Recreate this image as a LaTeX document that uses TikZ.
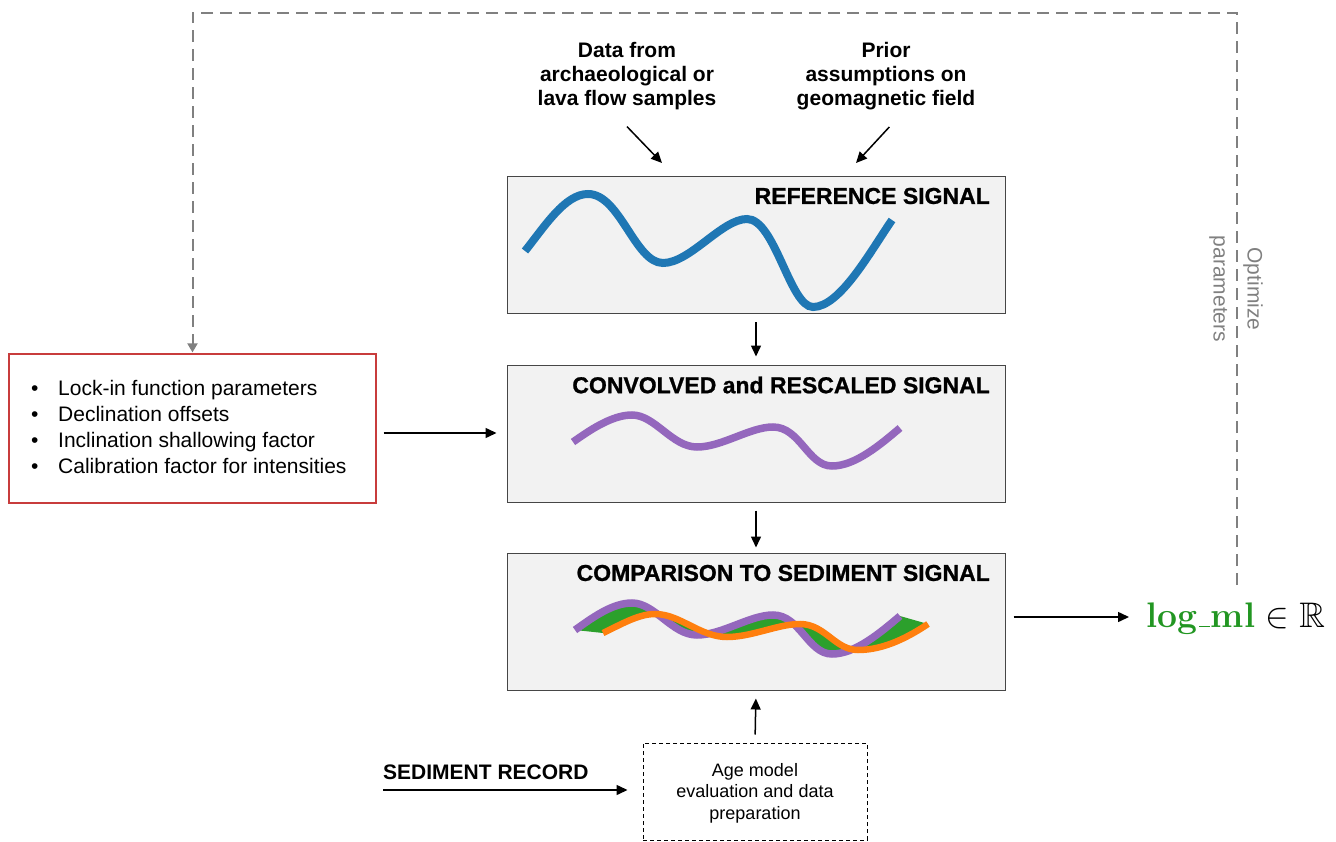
\RequirePackage{fix-cm}
\documentclass[tikz,border=0pt]{standalone}
\usepackage{fontspec}
\setsansfont{Liberation Sans}
\newfontfamily\panelfont[BoldFont={Liberation Sans Bold}, BoldFeatures={FakeBold=1}]{Liberation Sans}
\usepackage{amssymb}
\usetikzlibrary{arrows.meta}

\definecolor{boxfill}{RGB}{242,242,242}
\definecolor{boxline}{RGB}{70,70,70}
\definecolor{mblue}{RGB}{31,119,180}
\definecolor{mpurple}{RGB}{148,103,189}
\definecolor{morange}{RGB}{255,127,14}
\definecolor{mgreen}{RGB}{44,160,44}
\definecolor{loopgrey}{RGB}{128,128,128}
\definecolor{lockred}{RGB}{200,60,60}
\definecolor{mlgreen}{RGB}{34,150,34}

% short, low underscore as in the classic OT1 encoding
\newcommand{\shortunderscore}{\kern.06em\rule{.3em}{1.4pt}\kern.02em}

\tikzset{
  sigbox/.style={draw=boxline, line width=1pt, fill=boxfill, inner sep=0pt,
                 minimum width=498pt, minimum height=137pt},
  sigtitle/.style={anchor=east, inner sep=0pt,
                   font=\panelfont\bfseries\fontsize{23}{26}\selectfont},
  plaintext/.style={inner sep=0pt, align=center,
                    font=\sffamily\fontsize{21}{24}\selectfont},
  boldtext/.style={plaintext, font=\sffamily\bfseries\fontsize{21}{24}\selectfont},
  flow/.style={line width=1.5pt, -{Triangle[length=11pt,width=10pt]}},
  feedback/.style={draw=loopgrey, line width=2pt, dash pattern=on 12pt off 7pt,
                   -{Triangle[length=9pt,width=10pt]}},
  curve/.style={line width=#1},
}

\begin{document}
\begin{tikzpicture}[x=1pt, y=-1pt]
\useasboundingbox (0,0) rectangle (1336,842);

% ---- input texts at the top
\node[boldtext] (datatxt) at (627,76) {Data from\\archaeological or\\lava flow samples};
\node[boldtext] (priortxt) at (886,76) {Prior\\assumptions on\\geomagnetic field};
\coordinate (datain) at (662,163);
\coordinate (priorin) at (856,163);
\draw[flow, shorten <=23pt] ([xshift=-16pt]datatxt.south) -- (datain);
\draw[flow, shorten <=23pt] ([xshift=19pt]priortxt.south) -- (priorin);

% ---- the three signal panels
\node[sigbox] (ref)  at (756,245.5) {};
\node[sigbox] (conv) at (756,433.5) {};
\node[sigbox] (cmp)  at (756,621.5) {};

\node[sigtitle] (reftitle)  at (990,196) {REFERENCE SIGNAL};
\node[sigtitle] (convtitle) at (990,385) {CONVOLVED and RESCALED SIGNAL};
\node[sigtitle] (cmptitle)  at (990,573) {COMPARISON TO SEDIMENT SIGNAL};

% reference curve
\draw[mblue, curve=8pt]
  (525,251) .. controls (545,226) and (565,194) .. (588,194)
            .. controls (620,194) and (635,263) .. (663,263)
            .. controls (690,263) and (722,219) .. (747,219)
            .. controls (775,219) and (790,307) .. (813,307)
            .. controls (840,307) and (870,252) .. (892,220);

% convolved curve
\draw[mpurple, curve=7.5pt]
  (573,442) .. controls (590,430) and (612,415) .. (632,415)
            .. controls (655,415) and (672,447) .. (697,447)
            .. controls (722,447) and (750,427) .. (773,427)
            .. controls (800,427) and (808,466) .. (832,466)
            .. controls (855,466) and (880,445) .. (900,428);

% misfit area between model and sediment curves
\fill[mgreen]
  (575,630) .. controls (592,618) and (612,603) .. (632,603)
            .. controls (655,603) and (672,635) .. (697,635)
            .. controls (722,635) and (750,615) .. (773,615)
            .. controls (800,615) and (808,654) .. (832,654)
            .. controls (855,654) and (880,633) .. (900,616)
  -- (928,624) .. controls (910,636) and (885,650) .. (858,650)
            .. controls (835,650) and (825,624) .. (800,624)
            .. controls (778,624) and (752,637) .. (727,637)
            .. controls (700,637) and (680,614) .. (655,614)
            .. controls (638,614) and (620,625) .. (603,633)
  -- cycle;
\draw[mpurple, curve=7.5pt]
  (575,630) .. controls (592,618) and (612,603) .. (632,603)
            .. controls (655,603) and (672,635) .. (697,635)
            .. controls (722,635) and (750,615) .. (773,615)
            .. controls (800,615) and (808,654) .. (832,654)
            .. controls (855,654) and (880,633) .. (900,616);
\draw[morange, curve=6.5pt]
  (603,633) .. controls (620,625) and (638,614) .. (655,614)
            .. controls (680,614) and (700,637) .. (727,637)
            .. controls (752,637) and (778,624) .. (800,624)
            .. controls (825,624) and (835,650) .. (858,650)
            .. controls (885,650) and (910,636) .. (928,624);

\draw[flow, shorten <=8pt, shorten >=8pt] (ref.south) -- (conv.north);
\draw[flow, shorten <=8pt, shorten >=5pt] (conv.south) -- (cmp.north);

% ---- parameter box
\node[draw=lockred, line width=1.2pt, fill=white, inner sep=0pt,
      minimum width=367pt, minimum height=149pt] (lock) at (192.5,428.5) {};
\node[inner sep=0pt, align=left, anchor=west,
      font=\sffamily\fontsize{21}{25.7}\selectfont] (locklist) at (31,427)
  {\makebox[27pt][l]{\textbullet}Lock-in function parameters\\
   \makebox[27pt][l]{\textbullet}Declination offsets\\
   \makebox[27pt][l]{\textbullet}Inclination shallowing factor\\
   \makebox[27pt][l]{\textbullet}Calibration factor for intensities};
\coordinate (lockarr) at ([yshift=-4.5pt]lock.east);
\draw[flow, shorten <=7pt, shorten >=10pt] (lockarr) -- (lockarr -| conv.west);

% ---- sediment record input
\node[draw, line width=1pt, dash pattern=on 4pt off 3pt, inner sep=0pt,
      minimum width=224pt, minimum height=97pt] (age) at (755,791.5) {};
\node[plaintext, font=\sffamily\fontsize{18}{21.5}\selectfont] (agetxt) at (755,793)
  {Age model\\evaluation and data\\preparation};
\node[boldtext, anchor=west] (sedrec) at (383,772) {SEDIMENT RECORD};
\coordinate (sedin) at (383,790);
\draw[flow, shorten >=15pt] (sedin) -- (sedin -| age.west);
\draw[flow, shorten <=8pt, shorten >=8pt] (age.north) -- (cmp.south);

% ---- output
\node[inner sep=0pt, anchor=base west, font=\fontsize{35.5}{40}\selectfont] (logml) at (1146,627)
  {\textcolor{mlgreen}{\bfseries log\shortunderscore ml} $\in \mathbb{R}$};
\coordinate (mlout) at ([xshift=8pt,yshift=4.5pt]cmp.east);
\draw[flow, shorten >=17pt] (mlout) -- (mlout -| logml.west);

% ---- optimisation loop
\coordinate (loopfoot) at (1237,585);
\coordinate (looptop) at (1237,13);
\draw[feedback, shorten >=1pt] (loopfoot) -- (looptop) -| (lock.north);
\node[plaintext, rotate=-90, text=loopgrey,
      font=\sffamily\fontsize{21}{34}\selectfont] (opt) at (1236,289)
  {Optimize\\parameters};
\end{tikzpicture}
\end{document}
